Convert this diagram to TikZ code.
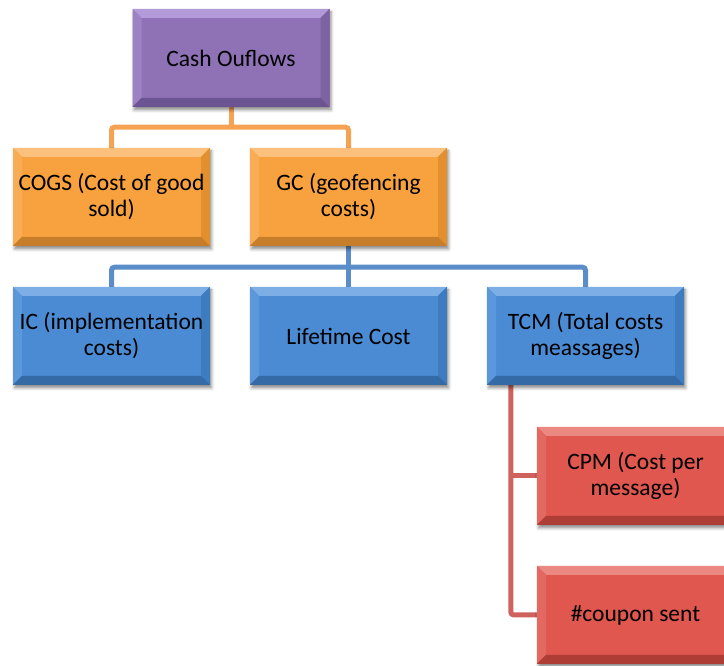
\documentclass[tikz,border=0pt]{standalone}
\usepackage{fontspec}
\setmainfont{Carlito}
\usetikzlibrary{shadows.blur,backgrounds}

% colour sets for the bevelled boxes: face, top, left, right, bottom
\definecolor{puF}{HTML}{8F72B6}\definecolor{puT}{HTML}{B39AD8}\definecolor{puL}{HTML}{9C81C3}\definecolor{puR}{HTML}{7E63A3}\definecolor{puB}{HTML}{6C5392}
\definecolor{orF}{HTML}{F7A23E}\definecolor{orT}{HTML}{FBC17C}\definecolor{orL}{HTML}{F8AD55}\definecolor{orR}{HTML}{E2902F}\definecolor{orB}{HTML}{C77E2A}
\definecolor{blF}{HTML}{4A8BD3}\definecolor{blT}{HTML}{7EAEE6}\definecolor{blL}{HTML}{5B98DB}\definecolor{blR}{HTML}{3E7CC0}\definecolor{blB}{HTML}{346AA5}
\definecolor{reF}{HTML}{DF574E}\definecolor{reT}{HTML}{EB8881}\definecolor{reL}{HTML}{E36861}\definecolor{reR}{HTML}{C8493F}\definecolor{reB}{HTML}{AE3D35}
\definecolor{lnOr}{HTML}{F5A352}
\definecolor{lnBl}{HTML}{5B8DC8}
\definecolor{lnRe}{HTML}{D0625D}

\newcommand\boxfont{\fontsize{23.5}{26}\selectfont}

\tikzset{
  bevel/.style={
    path picture={
      \def\bb{path picture bounding box}
      \fill[#1T] (\bb.north west) -- (\bb.north east) -- ([shift={(-9pt,-9pt)}]\bb.north east) -- ([shift={(9pt,-9pt)}]\bb.north west) -- cycle;
      \fill[#1L] (\bb.north west) -- ([shift={(9pt,-9pt)}]\bb.north west) -- ([shift={(9pt,9pt)}]\bb.south west) -- (\bb.south west) -- cycle;
      \fill[#1R] (\bb.north east) -- ([shift={(-9pt,-9pt)}]\bb.north east) -- ([shift={(-9pt,9pt)}]\bb.south east) -- (\bb.south east) -- cycle;
      \fill[#1B] (\bb.south west) -- ([shift={(9pt,9pt)}]\bb.south west) -- ([shift={(-9pt,9pt)}]\bb.south east) -- (\bb.south east) -- cycle;
    }},
  box/.style={
    rectangle, minimum width=197pt, minimum height=98pt, inner sep=0pt,
    align=center, text=black,
    font=\boxfont,
    fill=#1F, bevel=#1,
    blur shadow={shadow xshift=1.5pt, shadow yshift=-3pt, shadow blur radius=3pt, shadow opacity=45}},
  conn/.style={line width=5pt, rounded corners=3pt, #1}
}

\begin{document}
\begin{tikzpicture}[x=1pt,y=1pt]
  \useasboundingbox (0,0) rectangle (724,666);
  \clip (0,0) rectangle (724,666);

  % boxes
  \node[box=pu] (cash) at (231,608) {Cash Ouflows};
  \node[box=or] (cogs) at (111.5,469) {COGS (Cost of good\\sold)};
  \node[box=or] (gc)   at (348.5,469) {GC (geofencing\\costs)};
  \node[box=bl] (ic)   at (111.5,330) {IC (implementation\\costs)};
  \node[box=bl] (life) at (348.5,330) {Lifetime Cost};
  \node[box=bl] (tcm)  at (585.5,330) {TCM (Total costs\\meassages)};
  \node[box=re] (cpm)  at (635.5,190) {CPM (Cost per\\message)};
  \node[box=re] (coup) at (635.5,51)  {\#coupon sent};

  % connectors, kept behind the boxes
  \begin{scope}[on background layer]
    % level 1
    \coordinate (obus) at ([yshift=-20pt]cash.south);
    \draw[conn=lnOr] (cogs.north) |- (obus) -| (gc.north);
    \draw[conn=lnOr] (cash.south) -- (obus);
    % level 2
    \coordinate (bbus) at ([yshift=-21pt]gc.south);
    \draw[conn=lnBl] (ic.north) |- (bbus) -| (tcm.north);
    \draw[conn=lnBl] (gc.south) -- (life.north);
    % level 3
    \coordinate (rx) at ([xshift=24pt]tcm.south west);
    \draw[conn=lnRe] (rx) |- (coup.west);
    \draw[conn=lnRe] (rx |- cpm.west) -- (cpm.west);
  \end{scope}
\end{tikzpicture}
\end{document}
